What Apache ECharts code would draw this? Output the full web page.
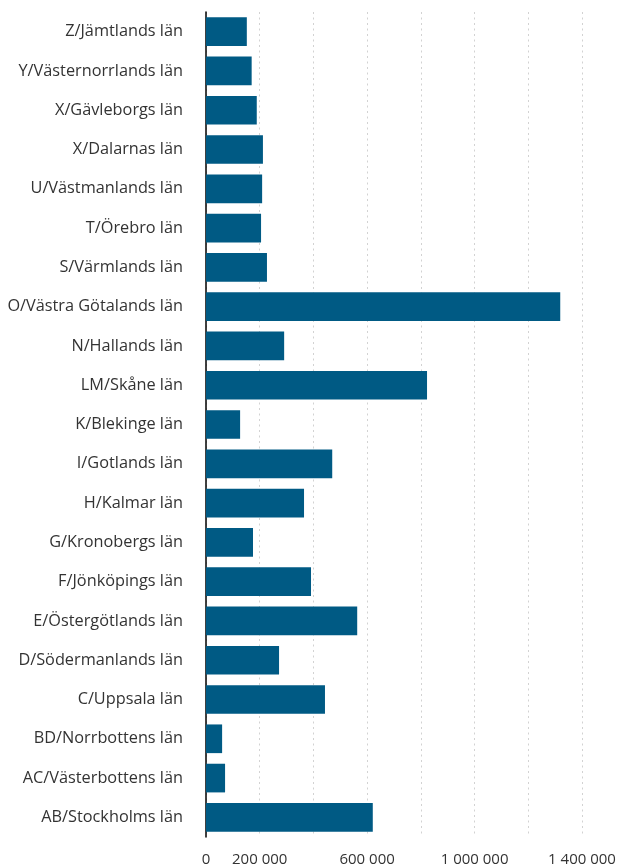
<!DOCTYPE html>
<html>
<head>
<meta charset="utf-8">
<script src="https://cdn.jsdelivr.net/npm/echarts@6/dist/echarts.min.js"></script>
<style>
    html, body { margin: 0; padding: 0; background: #fff; }
    #chart { width: 621px; height: 868px; }
</style>
</head>
<body>
<div id="chart"></div>
<script>
// län, nerifrån och upp
const lan = [
    'AB/Stockholms län', 'AC/Västerbottens län', 'BD/Norrbottens län', 'C/Uppsala län',
    'D/Södermanlands län', 'E/Östergötlands län', 'F/Jönköpings län', 'G/Kronobergs län',
    'H/Kalmar län', 'I/Gotlands län', 'K/Blekinge län', 'LM/Skåne län', 'N/Hallands län',
    'O/Västra Götalands län', 'S/Värmlands län', 'T/Örebro län', 'U/Västmanlands län',
    'X/Dalarnas län', 'X/Gävleborgs län', 'Y/Västernorrlands län', 'Z/Jämtlands län'
]
const varden = [
    621000, 71000, 60000, 443000,
    272000, 563000, 391000, 175000,
    365000, 470000, 127000, 823000, 291000,
    1319000, 227000, 205000, 209000,
    212000, 189000, 170000, 152000
]
// bara dessa ticks får text
const visadeTicks = [0, 200000, 600000, 1000000, 1400000]

const chartDiv = document.getElementById('chart')
const myChart = echarts.init(chartDiv)

function formatTal(v) {
    return String(v).replace(/\B(?=(\d{3})+(?!\d))/g, ' ')
}

myChart.setOption({
    animation: false,
    textStyle: { fontFamily: 'Open Sans' },
    grid: { left: 206, right: 39, top: 12, bottom: 31 },
    xAxis: {
        type: 'value',
        min: 0,
        max: 1400000,
        interval: 200000,
        axisLine: { show: false },
        axisTick: { show: false },
        axisLabel: {
            color: '#333',
            fontSize: 15,
            margin: 15,
            formatter: (v) => visadeTicks.includes(v) ? formatTal(v) : ''
        },
        splitLine: {
            show: true,
            lineStyle: { color: '#d2d2d2', width: 1, type: [2, 3.5] }
        }
    },
    yAxis: {
        type: 'category',
        data: lan,
        axisLine: { show: true, lineStyle: { color: '#000', width: 1.5 } },
        axisTick: { show: false },
        axisLabel: { color: '#333', fontSize: 16.3, margin: 23 }
    },
    series: [
        {
            type: 'bar',
            data: varden,
            barCategoryGap: '27%',
            itemStyle: { color: '#005a84' }
        }
    ]
})
</script>
</body>
</html>
